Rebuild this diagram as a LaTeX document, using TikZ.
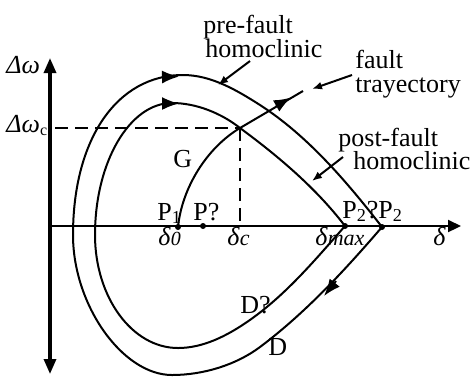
\documentclass[tikz,border=0pt]{standalone}
\usepackage{fontspec}
\setmainfont{Liberation Serif}
\usetikzlibrary{arrows.meta}
\begin{document}
\begin{tikzpicture}[x=0.5pt,y=-0.5pt,
  font=\fontsize{13}{15}\selectfont,
  curve/.style={line width=1pt, black},
  axisv/.style={line width=1.6pt, black},
  axish/.style={line width=1.1pt, black},
  dashline/.style={line width=1.4pt, black, dash pattern=on 6.5pt off 3.5pt},
  midhead/.style={line width=1pt, -{Latex[length=8.5pt,width=6.5pt]}},
  pointer/.style={line width=1pt, -{Latex[length=5pt,width=4pt]}},
  lbl/.style={anchor=base west, inner sep=0pt},
  dot/.style={circle, fill=black, inner sep=0pt, minimum size=3pt}]
\useasboundingbox (0,0) rectangle (470,377);

% axes
\coordinate (Otop) at (50,58);
\coordinate (Obot) at (50,374);
\coordinate (Oleft) at (50,226);
\coordinate (Oright) at (461,226);
\draw[axisv,{Triangle[length=7.5pt,width=6pt]}-{Triangle[length=7.5pt,width=6pt]}] (Obot) -- (Otop);
\draw[axish,-{Triangle[length=6.5pt,width=6pt]}] (Oleft) -- (Oright);

% key points
\coordinate (P1) at (178,227);
\coordinate (P1p) at (203,226);
\coordinate (P2p) at (345,226);
\coordinate (P2) at (382,227);
\coordinate (C) at (240,128);
\coordinate (Wc) at (55,128);
\coordinate (Dc) at (240,226);
\coordinate (Tend) at (303,91);

% dashed lines
\draw[dashline] (Wc) -- (C);
\draw[dashline] (C) -- (Dc);

% outer curve (pre-fault homoclinic)
\draw[curve] (P2) .. controls (347,182) and (308,136) .. (260,105)
  .. controls (236.5,90) and (211,75) .. (183,75)
  .. controls (117,75) and (73,139) .. (73,235)
  .. controls (73,305) and (122.5,375) .. (172,375)
  .. controls (203,375) and (236,365) .. (260,347)
  .. controls (305.6,312.8) and (345,270) .. (P2);

% inner curve (post-fault homoclinic)
\draw[curve] (P2p) .. controls (316,188) and (278,156) .. (C)
  .. controls (221,113) and (196,103) .. (172,103)
  .. controls (129.7,103) and (95,162) .. (95,235)
  .. controls (95,297) and (132,348) .. (178,348)
  .. controls (203,348) and (226.5,336) .. (247,322)
  .. controls (285,296) and (315,260) .. (P2p);

% fault trajectory
\draw[curve] (P1) .. controls (182,188) and (206.5,148) .. (C) -- (Tend);

% arrow heads on curves
\draw[midhead] (162,77) -- (179,76.5);
\draw[midhead] (162,103.5) -- (179,103.5);
\draw[midhead] (276,106) -- (291,97.5);
\draw[midhead] (336,281) -- (324,296);

% points
\node[dot] (d1) at (P1) {};
\node[dot] (d2) at (P1p) {};
\node[dot] (d3) at (P2p) {};
\node[dot] (d4) at (P2) {};

% pointers
\coordinate (preA) at (250,61);
\coordinate (preB) at (218,85);
\coordinate (faultA) at (352,75);
\coordinate (faultB) at (312,89);
\coordinate (postA) at (343,157);
\coordinate (postB) at (312,181);
\draw[pointer] (preA) -- (preB);
\draw[pointer] (faultA) -- (faultB);
\draw[pointer] (postA) -- (postB);

% labels
\node[lbl] (t1) at (203,33) {pre-fault};
\node[lbl] (t2) at (205,57) {homoclinic};
\node[lbl] (t3) at (355,68) {fault};
\node[lbl] (t4) at (355,92) {trayectory};
\node[lbl] (t5) at (338,146) {post-fault};
\node[lbl] (t6) at (353,169) {homoclinic};
\node[lbl] (tG) at (173,167) {G};
\node[lbl] (tw) at (6,73) {\textit{Δω}};
\node[lbl] (twc) at (6,132) {\textit{Δω}\raisebox{-1.5pt}{\fontsize{8}{8}\selectfont c}};
\node[lbl] (tP1) at (157,220) {P\textsubscript{1}};
\node[lbl] (tP1p) at (193,220) {P?};
\node[lbl] (tP2p) at (342,218) {P\textsubscript{2}?};
\node[lbl] (tP2) at (378,218) {P\textsubscript{2}};
\node[lbl] (td0) at (158,245) {\textit{δ}{\fontsize{10}{10}\selectfont\textit{0}}};
\node[lbl] (tdc) at (227,245) {\textit{δ}{\fontsize{11}{11}\selectfont\textit{c}}};
\node[lbl] (tdm) at (315,245) {\textit{δ}{\fontsize{11}{11}\selectfont\textit{max}}};
\node[lbl] (td) at (433,245) {\textit{δ}};
\node[lbl] (tD1) at (240,313) {D?};
\node[lbl] (tD2) at (268,355) {D};
\end{tikzpicture}
\end{document}
